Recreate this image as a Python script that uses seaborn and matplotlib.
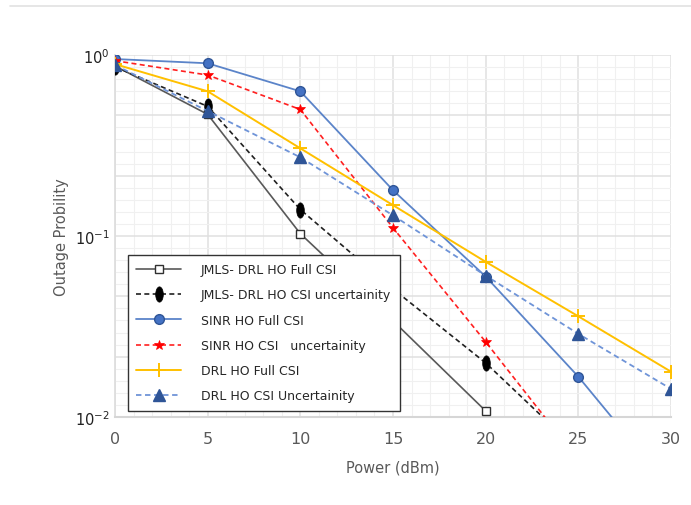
import numpy as np
import pandas as pd
import seaborn as sns
import matplotlib
matplotlib.use("Agg")
import matplotlib.pyplot as plt
from matplotlib.path import Path
from matplotlib.transforms import Affine2D
from matplotlib.lines import Line2D

# ---- data ----
power = [0, 5, 10, 15, 20, 25, 30]
jmls_full = [0.87, 0.47, 0.103, 0.034, 0.0108]
jmls_unc = [0.86, 0.52, 0.14, 0.051, 0.0199, 0.0065]
sinr_full = [0.95, 0.90, 0.63, 0.179, 0.0597, 0.0167, 0.0040]
sinr_unc = [0.93, 0.775, 0.50, 0.111, 0.026, 0.0058]
drl_full = [0.89, 0.63, 0.305, 0.148, 0.072, 0.036, 0.0178]
drl_unc = [0.88, 0.49, 0.272, 0.130, 0.0604, 0.0288, 0.0143]

labels = ["JMLS- DRL HO Full CSI",
          "JMLS- DRL HO CSI uncertainity",
          "SINR HO Full CSI",
          "SINR HO CSI   uncertainity",
          "DRL HO Full CSI",
          "DRL HO CSI Uncertainity"]
x_ticks = [0, 5, 10, 15, 20, 25, 30]

sns.set_theme(style="white")
plt.rcParams['font.family'] = ['DejaVu Sans']

fig = plt.figure(figsize=(6.91, 5.06), dpi=100)
ax = fig.add_axes([115/691, 1-418/506, (671-115)/691, (418-56)/506])

ellipse = Path.unit_circle().transformed(Affine2D().scale(0.5, 1.0))

series = [
    (jmls_full, dict(color="#595959", linestyle="-", lw=1.2, marker="s", ms=6,
                     mfc="white", mec="#303030", mew=1.0)),
    (jmls_unc, dict(color="#202020", linestyle=(0, (3, 2)), lw=1.2, marker=ellipse, ms=11,
                    mfc="black", mec="black", mew=0.5)),
    (sinr_full, dict(color="#5b84c9", linestyle="-", lw=1.3, marker="o", ms=7,
                     mfc="#4472C4", mec="#2F5597", mew=1.0)),
    (sinr_unc, dict(color="#ff2020", linestyle=(0, (3, 2)), lw=1.2, marker="*", ms=7.5,
                    mfc="#ff0000", mec="#ff0000", mew=0.5)),
    (drl_full, dict(color="#FFC000", linestyle="-", lw=1.4, marker="+", ms=10,
                    mfc="#FFC000", mec="#FFC000", mew=1.4)),
    (drl_unc, dict(color="#6f94d8", linestyle=(0, (3, 2)), lw=1.3, marker="^", ms=8,
                   mfc="#2F5597", mec="#2F5597", mew=1.0)),
]

handles = []
for (vals, st), lab in zip(series, labels):
    df = pd.DataFrame({"Power": power[:len(vals)], "Outage": vals})
    sns.lineplot(data=df, x="Power", y="Outage", ax=ax, sort=False,
                 color=st["color"], linestyle=st["linestyle"], linewidth=st["lw"],
                 marker=st["marker"], markersize=st["ms"], markerfacecolor=st["mfc"],
                 markeredgecolor=st["mec"], markeredgewidth=st["mew"], zorder=3,
                 clip_on=True)
    handles.append(Line2D([0], [0], color=st["color"], linestyle=st["linestyle"],
                          linewidth=st["lw"], marker=st["marker"],
                          markersize=st["ms"], markerfacecolor=st["mfc"],
                          markeredgecolor=st["mec"], markeredgewidth=st["mew"]))

ax.set_yscale("log")
ax.set_ylim(0.01, 1.0)
ax.set_xlim(0, 30)

# gridlines: minor every 1 dBm / 1/15 decade, major every 5 dBm / 1/3 decade
for k in range(0, 31):
    major = (k % 5 == 0)
    ax.axvline(k, color="#e0e0e0" if major else "#f0f0f0",
               lw=1.1 if major else 0.8, zorder=0)
for k in range(0, 31):
    v = 10 ** (-k / 15)
    major = (k % 5 == 0)
    ax.axhline(v, color="#e0e0e0" if major else "#f0f0f0",
               lw=1.1 if major else 0.8, zorder=0)

ax.set_xticks(x_ticks)
ax.set_xticklabels([str(t) for t in x_ticks])
ax.set_yticks([1e-2, 1e-1, 1e0])
ax.set_yticklabels([r"$10^{-2}$", r"$10^{-1}$", r"$10^{0}$"])
ax.yaxis.set_minor_locator(matplotlib.ticker.NullLocator())
ax.tick_params(axis="x", colors="#595959", labelsize=11.5, length=0, pad=10)
ax.tick_params(axis="y", colors="#222222", labelsize=10.5, length=0, pad=4)

for s in ["top", "right"]:
    ax.spines[s].set_visible(False)
ax.spines["left"].set_color("#dddddd")
ax.spines["bottom"].set_color("#d6d6d6")
ax.spines["bottom"].set_linewidth(1.5)

ax.set_xlabel("Power (dBm)", fontsize=10.5, color="#595959", labelpad=10)
ax.set_ylabel("Outage Probility", fontsize=10.5, color="#595959", labelpad=4)

leg = ax.legend(handles, labels, loc="upper left",
                bbox_to_anchor=((128-115)/556, (418-256)/362),
                frameon=True, fancybox=False, fontsize=9.0,
                handlelength=3.6, handletextpad=1.6, labelspacing=0.98,
                borderpad=0.65, borderaxespad=0)
leg.get_frame().set_edgecolor("#333333")
leg.get_frame().set_linewidth(1.0)
leg.get_frame().set_facecolor("white")
leg.get_frame().set_alpha(1.0)
leg.set_zorder(10)

# faint frame line at top of image
fig.add_artist(Line2D([10/691, 1.0], [1-7/506, 1-7/506], transform=fig.transFigure,
                      color="#e2e2e2", lw=1.2))

fig.savefig("out.png", dpi=100, facecolor="white")
